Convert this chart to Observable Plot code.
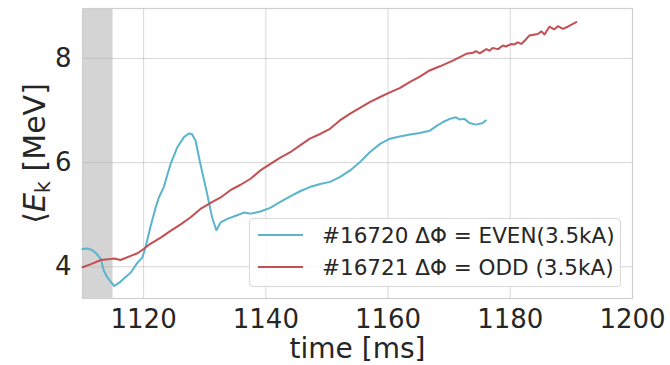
<!DOCTYPE html>
<html>
<head>
<meta charset="utf-8">
<script src="https://cdn.jsdelivr.net/npm/d3@7"></script>
<script src="https://cdn.jsdelivr.net/npm/@observablehq/plot@0.6"></script>
<style>
  html, body { margin: 0; padding: 0; background: #fff; }
  #wrap { position: relative; width: 670px; height: 365px; font-family: "DejaVu Sans", sans-serif; }
  #legend { position: absolute; left: 249px; top: 218px; width: 370px; height: 67px;
    border: 1px solid #d8d8d8; border-radius: 4px; background: rgba(255,255,255,0.85); }
  .row { position: absolute; left: 8px; height: 30px; display: flex; align-items: center;
    font-size: 21.5px; color: #262626; white-space: nowrap; }
  .sw { width: 45px; height: 2px; margin-right: 19px; }
</style>
</head>
<body>
<div id="wrap"></div>
<script>
const xTicks = [1120, 1140, 1160, 1180, 1200];
const yTicks = [4, 6, 8];
const xLabel = "time [ms]";
const yLabel = "⟨E_k [MeV]";
const seriesLabels = ["#16720 ΔΦ = EVEN(3.5kA)", "#16721 ΔΦ = ODD (3.5kA)"];
const seriesColors = ["#5ab4cb", "#c44e52"];
const shadeStart = [1110];
const shadeEnd = [1115];

const evenTime = [1110.0,1110.8,1111.6,1112.2,1113.0,1113.5,1114.1,1114.7,1115.2,1116.2,1117.0,1117.9,1119.0,1119.8,1120.3,1121.1,1122.0,1122.5,1123.3,1124.4,1125.5,1126.6,1127.4,1127.9,1128.5,1129.3,1130.4,1131.2,1131.9,1132.6,1133.7,1135.3,1136.4,1137.5,1139.1,1140.7,1142.3,1144.0,1145.6,1147.2,1148.9,1150.5,1152.1,1153.8,1155.4,1157.0,1158.7,1160.3,1161.9,1163.6,1165.2,1166.8,1167.9,1169.0,1170.1,1171.1,1171.7,1172.5,1173.3,1174.4,1175.5,1176.0];
const evenEk = [4.34,4.35,4.32,4.26,4.15,3.92,3.79,3.70,3.63,3.71,3.80,3.89,4.08,4.18,4.37,4.76,5.15,5.33,5.53,5.97,6.29,6.49,6.56,6.55,6.42,5.97,5.40,4.95,4.70,4.85,4.92,4.99,5.04,5.02,5.06,5.13,5.24,5.35,5.45,5.53,5.59,5.63,5.72,5.85,6.01,6.20,6.36,6.46,6.50,6.54,6.57,6.61,6.70,6.78,6.84,6.87,6.83,6.84,6.76,6.73,6.76,6.81];

const oddTime = [1110.0,1111.4,1113.0,1114.6,1115.2,1116.2,1117.9,1119.0,1120.0,1121.1,1122.8,1124.4,1126.0,1127.7,1129.3,1130.9,1132.6,1134.2,1135.8,1137.5,1139.1,1140.7,1142.3,1144.0,1145.6,1147.2,1148.9,1150.5,1152.1,1153.8,1155.4,1157.0,1158.7,1160.3,1161.9,1163.6,1165.2,1166.8,1168.5,1170.6,1172.8,1173.9,1174.4,1175.0,1176.1,1176.6,1177.1,1178.0,1178.8,1179.3,1180.2,1180.7,1181.2,1181.8,1182.6,1183.1,1184.5,1185.1,1185.6,1186.4,1187.2,1187.8,1188.6,1189.4,1190.8];
const oddEk = [3.99,4.05,4.13,4.15,4.16,4.13,4.21,4.26,4.34,4.44,4.56,4.69,4.81,4.95,5.11,5.22,5.33,5.47,5.57,5.69,5.85,5.97,6.09,6.20,6.33,6.46,6.55,6.65,6.81,6.94,7.05,7.16,7.26,7.35,7.43,7.55,7.65,7.77,7.85,7.96,8.09,8.11,8.14,8.10,8.18,8.15,8.20,8.18,8.25,8.23,8.28,8.27,8.31,8.28,8.37,8.44,8.47,8.52,8.46,8.61,8.56,8.62,8.57,8.61,8.70];

const even = evenTime.map((t, i) => ({t, e: evenEk[i]}));
const odd = oddTime.map((t, i) => ({t, e: oddEk[i]}));
const shade = shadeStart.map((s, i) => ({x1: s, x2: shadeEnd[i]}));

const plot = Plot.plot({
  width: 670,
  height: 365,
  marginLeft: 82,
  marginRight: 38,
  marginTop: 8,
  marginBottom: 67,
  style: {fontFamily: "DejaVu Sans", color: "#262626", background: "white"},
  x: {domain: [1110, 1200]},
  y: {domain: [3.39, 8.96]},
  marks: [
    Plot.rect(shade, {x1: "x1", x2: "x2", fill: "#d4d4d4"}),
    Plot.gridX(xTicks, {stroke: "#b0b0b0", strokeOpacity: 0.5, strokeWidth: 1}),
    Plot.gridY(yTicks, {stroke: "#b0b0b0", strokeOpacity: 0.5, strokeWidth: 1}),
    Plot.frame({stroke: "#cfcfcf", strokeWidth: 1.2}),
    Plot.line(even, {x: "t", y: "e", stroke: seriesColors[0], strokeWidth: 2}),
    Plot.line(odd, {x: "t", y: "e", stroke: seriesColors[1], strokeWidth: 2}),
    Plot.axisX(xTicks, {tickSize: 0, tickPadding: 11, fontSize: 26, label: null, fill: "#262626", tickFormat: d => String(d)}),
    Plot.axisY(yTicks, {tickSize: 0, tickPadding: 11, fontSize: 26, label: null, fill: "#262626", tickFormat: d => String(d)}),
    Plot.text([xLabel], {frameAnchor: "bottom", dy: 51, text: d => d, fontSize: 28, fill: "#262626", lineAnchor: "middle", textAnchor: "middle"}),
    Plot.text([yLabel], {frameAnchor: "left", dx: -47, rotate: -90, text: d => d, fontSize: 30, fill: "#262626", lineAnchor: "middle", textAnchor: "middle"})
  ]
});

// Render the math label: italic E with subscript k
d3.select(plot).selectAll("text").filter(function() { return this.textContent === yLabel; }).each(function() {
  const t = d3.select(this);
  t.text(null);
  t.append("tspan").text("⟨");
  t.append("tspan").attr("font-style", "italic").text("E");
  t.append("tspan").attr("font-size", "0.7em").attr("dy", "0.25em").text("k");
  t.append("tspan").attr("dy", "-0.175em").text(" [MeV]");
});

const wrap = document.getElementById("wrap");
wrap.appendChild(plot);

const legend = document.createElement("div");
legend.id = "legend";
seriesLabels.forEach((lab, i) => {
  const row = document.createElement("div");
  row.className = "row";
  row.style.top = (i === 0 ? 1 : 33) + "px";
  const sw = document.createElement("div");
  sw.className = "sw";
  sw.style.background = seriesColors[i];
  const tx = document.createElement("span");
  tx.textContent = lab;
  row.appendChild(sw);
  row.appendChild(tx);
  legend.appendChild(row);
});
wrap.appendChild(legend);
</script>
</body>
</html>
